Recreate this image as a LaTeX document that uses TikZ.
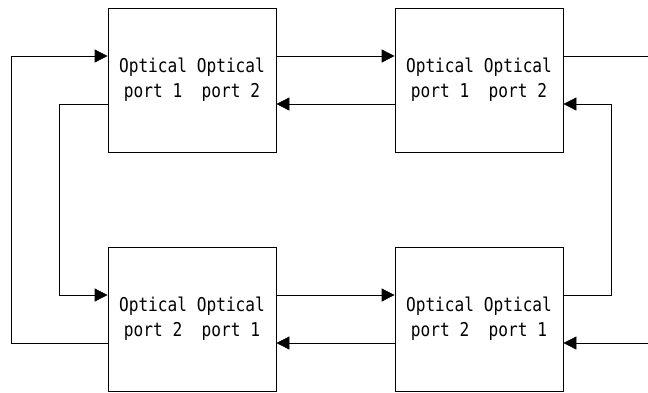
\documentclass[tikz,border=0pt]{standalone}
\usepackage{fontspec}
\usetikzlibrary{arrows.meta}
\newfontfamily\portfont[FakeStretch=0.85]{DejaVu Sans Mono}

\tikzset{
	portbox/.style={draw, line width=0.8pt, minimum width=168pt, minimum height=144pt, inner sep=0pt, align=center, font=\portfont\fontsize{19}{25}\selectfont},
	link/.style={line width=0.8pt, -{Triangle[length=13pt,width=13pt]}},
	wire/.style={line width=0.8pt}
}

\begin{document}
\begin{tikzpicture}[x=1pt, y=-1pt]
\useasboundingbox (0,0) rectangle (648,392);

\node[portbox] (tl) at (192,80) {Optical Optical\\port 1~~port 2};
\node[portbox] (tr) at (479,80) {Optical Optical\\port 1~~port 2};
\node[portbox] (bl) at (192,319) {Optical Optical\\port 2~~port 1};
\node[portbox] (br) at (479,319) {Optical Optical\\port 2~~port 1};

\coordinate (outtr) at (648,56);
\coordinate (inbr) at (648,343);

\draw[link] ([yshift=24pt]tl.east) -- ([yshift=24pt]tr.west);
\draw[link] ([yshift=-24pt]tr.west) -- ([yshift=-24pt]tl.east);
\draw[link] ([yshift=24pt]bl.east) -- ([yshift=24pt]br.west);
\draw[link] ([yshift=-24pt]br.west) -- ([yshift=-24pt]bl.east);

\draw[link] ([yshift=-24pt]bl.west) -- ++(-96,0) |- ([yshift=24pt]tl.west);
\draw[link] ([yshift=-24pt]tl.west) -- ++(-48,0) |- ([yshift=24pt]bl.west);
\draw[link] ([yshift=24pt]br.east) -- ++(48,0) |- ([yshift=-24pt]tr.east);

\draw[wire] ([yshift=24pt]tr.east) -- (outtr);
\draw[link] (inbr) -- ([yshift=-24pt]br.east);

\end{tikzpicture}
\end{document}
